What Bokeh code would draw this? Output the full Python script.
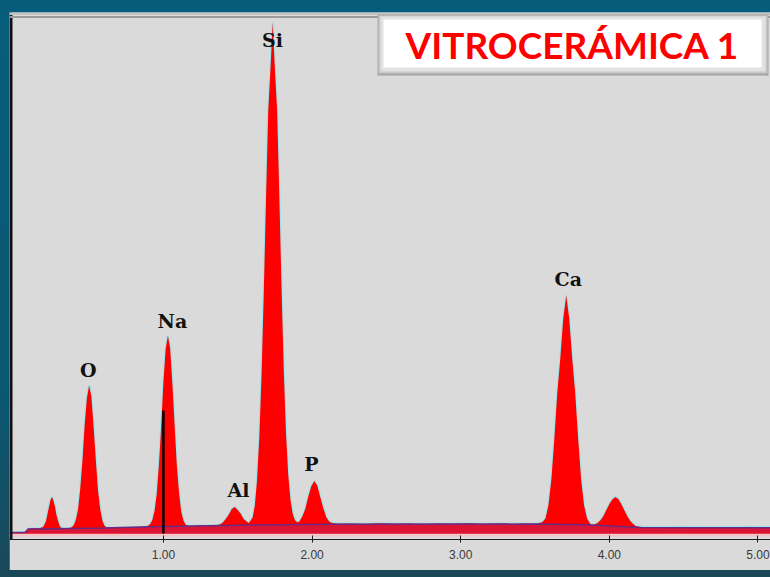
from bokeh.plotting import figure
from bokeh.models import BoxAnnotation, FixedTicker, Label, Range1d, Span
from bokeh.layouts import column
from bokeh.embed import file_html
from bokeh.resources import INLINE
from bokeh.core.properties import value

# EDS spectrum: energy (keV) and counts per channel
energy_kev = [
    -0.035, 0.06, 0.08, 0.09, 0.12, 0.15, 0.17, 0.19,
    0.20, 0.21, 0.22, 0.23, 0.24, 0.25, 0.26, 0.27, 0.28, 0.29, 0.30, 0.31,
    0.33, 0.36, 0.38,
    0.395, 0.41, 0.425, 0.44, 0.455, 0.47, 0.485, 0.50, 0.515, 0.53, 0.545,
    0.56, 0.575, 0.59, 0.605, 0.62,
    0.66, 0.70, 0.74, 0.78, 0.82, 0.86, 0.89,
    0.91, 0.925, 0.94, 0.955, 0.97, 0.985, 1.00, 1.015, 1.03, 1.045, 1.06,
    1.075, 1.09, 1.105, 1.12, 1.135, 1.15, 1.17,
    1.21, 1.25, 1.29, 1.33, 1.36,
    1.38, 1.40, 1.42, 1.44, 1.46, 1.48, 1.50, 1.52, 1.54, 1.56, 1.575,
    1.60, 1.615, 1.63, 1.645, 1.66, 1.675, 1.69, 1.705, 1.72, 1.735, 1.75,
    1.765, 1.78, 1.795, 1.81, 1.825, 1.84, 1.855, 1.87, 1.885,
    1.90, 1.915, 1.935, 1.955, 1.975, 1.995, 2.015, 2.035, 2.055, 2.075,
    2.095, 2.115, 2.135,
    2.17, 2.25, 2.35, 2.45, 2.55, 2.65, 2.75, 2.85, 2.95, 3.05, 3.15, 3.25,
    3.35, 3.45, 3.51,
    3.55, 3.57, 3.59, 3.61, 3.63, 3.65, 3.67, 3.69, 3.71, 3.73, 3.75, 3.77,
    3.79, 3.81, 3.83, 3.85, 3.87, 3.885,
    3.90, 3.92, 3.94, 3.96, 3.98, 4.00, 4.02, 4.04, 4.06, 4.08, 4.10, 4.12,
    4.14, 4.16, 4.18,
    4.22, 4.35, 4.50, 4.65, 4.80, 4.95, 5.10,
]
counts = [
    5, 6, 10, 24, 26, 25, 28, 32,
    45, 63, 98, 133, 168, 182, 164, 136, 94, 66, 41, 30,
    26, 27, 30,
    40, 66, 117, 221, 362, 542, 676, 740, 688, 535, 370,
    214, 121, 63, 38, 30,
    28, 29, 27, 30, 31, 33, 36,
    46, 66, 112, 198, 348, 540, 758, 922, 990, 928, 752,
    545, 343, 202, 109, 64, 44, 38,
    39, 40, 38, 41, 42,
    45, 55, 74, 95, 122, 132, 118, 99, 72, 60, 52,
    80, 140, 270, 480, 790, 1200, 1670, 2110, 2320, 2555, 2320,
    2115, 1680, 1215, 805, 495, 290, 165, 98, 66,
    56, 60, 86, 125, 186, 236, 262, 240, 182, 128,
    83, 60, 52,
    49, 50, 48, 51, 49, 50, 48, 50, 49, 51, 48, 50,
    49, 50, 48,
    58, 75, 140, 270, 475, 705, 875, 1075, 1190, 1075, 875, 705,
    475, 270, 140, 75, 50, 42,
    45, 52, 66, 88, 118, 148, 170, 182, 172, 148, 118, 88,
    64, 48, 36,
    33, 32, 33, 31, 32, 33, 32,
]

# fitted background under the spectrum
bg_energy = [-0.035, 0.07, 0.09, 0.30, 0.60, 0.90, 1.20, 1.60, 2.10, 3.50, 3.85, 4.20, 5.10]
bg_counts = [5, 6, 22, 24, 27, 34, 38, 42, 46, 47, 44, 30, 29]

# identified lines
peak_labels = ["O", "Na", "Al", "Si", "P", "Ca"]
peak_energy = [0.50, 1.03, 1.48, 1.735, 2.015, 3.71]
peak_counts = [740, 990, 132, 2555, 262, 1190]

# energy cursor
cursor_energy = 1.00
cursor_counts = 615

tick_values = [1, 2, 3, 4, 5]
tick_labels = ["1.00", "2.00", "3.00", "4.00", "5.00"]

title_text = "VITROCERÁMICA 1"

# ---- layout ----
X0, X1 = -0.0356, 5.0841
Y0, Y1 = -30, 2605
FRAME_W, FRAME_H = 761, 527
LEFT, TOP = 9, 12


def sx(px):
    return X0 + (px - LEFT) * (X1 - X0) / FRAME_W


def sy(py):
    return Y1 - (py - TOP) * (Y1 - Y0) / FRAME_H


CPP = (Y1 - Y0) / FRAME_H  # counts per pixel

p = figure(
    width=FRAME_W, height=558,
    x_range=Range1d(X0, X1), y_range=Range1d(Y0, Y1),
    output_backend="svg", toolbar_location=None,
    y_axis_location=None,
    min_border_left=0, min_border_right=0, min_border_top=0, min_border_bottom=31,
    background_fill_color="#dadada", border_fill_color="#dadada",
    outline_line_color=None,
)
p.grid.visible = False
p.margin = (TOP, 0, 7, LEFT)

ax = p.xaxis[0]
ax.ticker = FixedTicker(ticks=tick_values)
ax.major_label_overrides = {t: s for t, s in zip(tick_values, tick_labels)}
ax.minor_tick_line_color = None
ax.axis_line_color = "#1a1a1a"
ax.major_tick_line_color = "#1a1a1a"
ax.major_tick_in = 4
ax.major_tick_out = 3
ax.major_label_standoff = 7
ax.major_label_text_font = "Liberation Sans"
ax.major_label_text_font_size = "12px"
ax.major_label_text_color = "#3a3a3a"

# panel edges
p.add_layout(Span(location=sx(10.5), dimension="height", line_color="#111111", line_width=3))
p.add_layout(Span(location=sy(13), dimension="width", line_color="#c4c4c4", line_width=3))
p.add_layout(Span(location=sy(16.5), dimension="width", line_color="#9a9a9a", line_width=2))

# pale halo under the spectrum floor
p.add_layout(BoxAnnotation(bottom=sy(536), top=0, fill_color="#f2c6c8", fill_alpha=1.0,
                           line_color=None, level="underlay"))

# spectrum
p.line(energy_kev, counts, line_color="#8fe3ea", line_width=2.2, line_alpha=0.8)
p.varea(x=energy_kev, y1=0, y2=counts, fill_color="#ff0000")
p.varea(x=bg_energy, y1=0, y2=bg_counts, fill_color="#dc1434")
p.line(bg_energy, bg_counts, line_color="#6a2a84", line_width=1.5)

# cursor marker
p.segment(x0=[cursor_energy], y0=[0], x1=[cursor_energy], y1=[cursor_counts],
          line_color="#000000", line_width=2.5)

# element labels
label_dx = [-0.005, 0.03, 0.025, -0.002, -0.02, 0.014]
label_dpx = [16, 15, 17, -17, 17, 17]
lx = [e + d for e, d in zip(peak_energy, label_dx)]
ly = [c + d * CPP for c, d in zip(peak_counts, label_dpx)]
p.text(x=lx, y=ly, text=peak_labels, text_font=value("DejaVu Serif"),
       text_font_style="bold", text_font_size="19px", text_color="#111111",
       text_align="center", text_baseline="alphabetic")

# title box with bevel
for (l, r, t, b, c) in [
    (377, 768, 14, 75, "#a4a4a4"),
    (378, 767, 15, 73, "#c8c8c8"),
    (380, 765, 16, 71, "#e2e2e2"),
    (383, 761, 19, 67, "#ffffff"),
]:
    p.add_layout(BoxAnnotation(left=sx(l), right=sx(r), top=sy(t), bottom=sy(b),
                               fill_color=c, fill_alpha=1.0, line_color=None))
p.add_layout(Label(x=sx(572), y=sy(44), text=title_text, text_align="center",
                   text_baseline="alphabetic", text_font="Lato",
                   text_font_style="bold", text_font_size="37px", text_color="#ff0000"))

root = column(p, width=770, height=577,
              styles={"background": "linear-gradient(180deg, #065d7b 0%, #0b5771 70%, #1a4859 100%)"})

with open("out.html", "w") as f:
    f.write(file_html(root, INLINE))
